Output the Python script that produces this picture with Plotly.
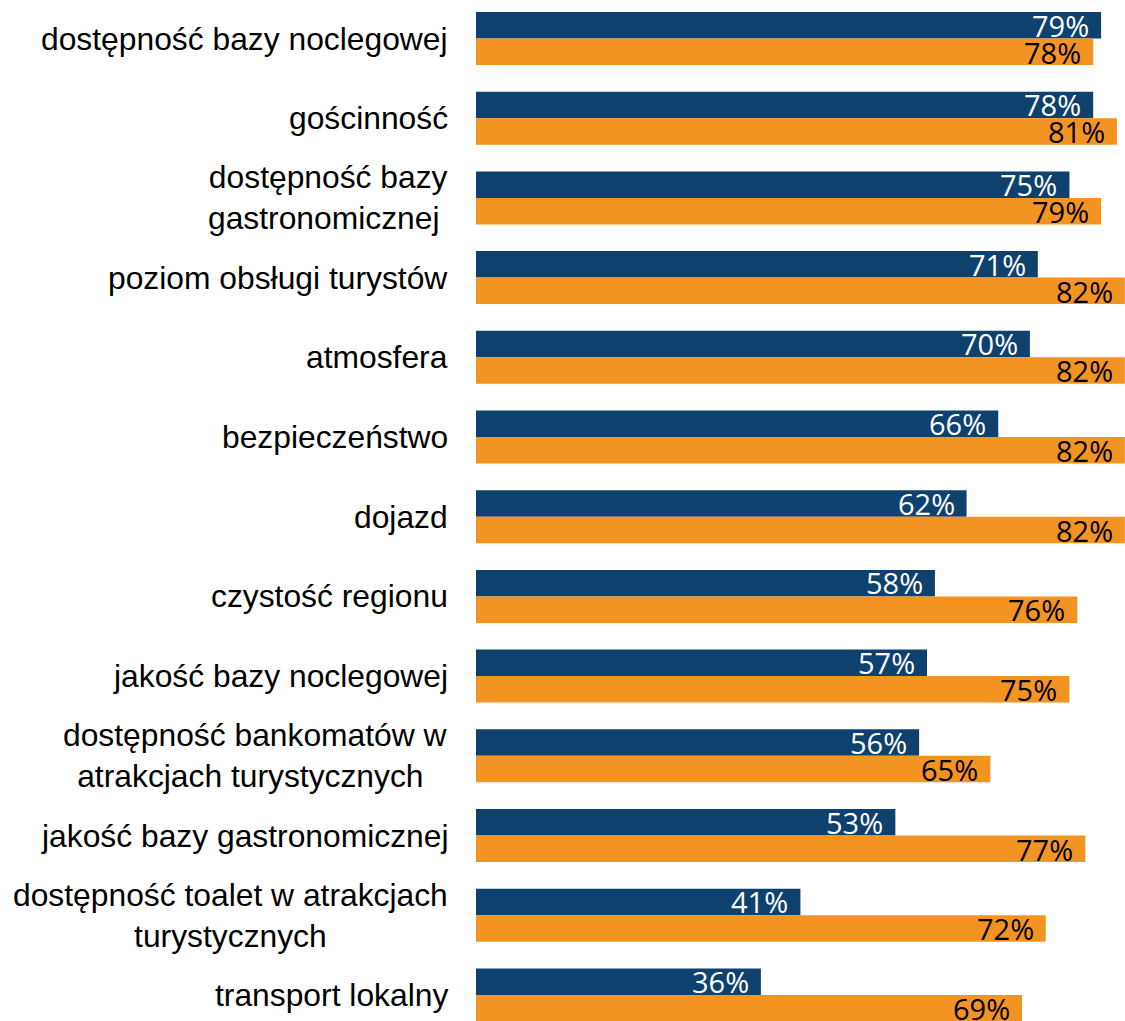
import plotly.graph_objects as go

categories = [
    "dostępność bazy noclegowej",
    "gościnność",
    "dostępność bazy<br>gastronomicznej ",
    "poziom obsługi turystów",
    "atmosfera",
    "bezpieczeństwo",
    "dojazd",
    "czystość regionu",
    "jakość bazy noclegowej",
    "dostępność bankomatów w<br>atrakcjach turystycznych ",
    "jakość bazy gastronomicznej",
    "dostępność toalet w atrakcjach<br>turystycznych",
    "transport lokalny",
]
series_blue = [79, 78, 75, 71, 70, 66, 62, 58, 57, 56, 53, 41, 36]
series_orange = [78, 81, 79, 82, 82, 82, 82, 76, 75, 65, 77, 72, 69]

BLUE = "#0F416F"
ORANGE = "#F39322"

fig = go.Figure()
fig.add_trace(go.Bar(y=categories, x=series_blue, orientation="h",
                     marker=dict(color=BLUE, line=dict(width=0)), name="A"))
fig.add_trace(go.Bar(y=categories, x=series_orange, orientation="h",
                     marker=dict(color=ORANGE, line=dict(width=0)), name="B"))

annotations = []
for cat, vb, vo in zip(categories, series_blue, series_orange):
    annotations.append(dict(x=vb, y=cat, xref="x", yref="y", text=f"{vb}%",
                            xanchor="right", yanchor="middle", xshift=-10, yshift=13.5,
                            showarrow=False,
                            font=dict(family="Open Sans", size=29, color="#FFFFFF")))
    annotations.append(dict(x=vo, y=cat, xref="x", yref="y", text=f"{vo}%",
                            xanchor="right", yanchor="middle", xshift=-10, yshift=-13.5,
                            showarrow=False,
                            font=dict(family="Open Sans", size=29, color="#000000")))
    annotations.append(dict(x=0, y=cat, xref="paper", yref="y", text=cat,
                            xanchor="right", yanchor="middle", xshift=-26, align="center",
                            showarrow=False,
                            font=dict(family="Liberation Sans, Arial", size=31.8, color="#000000")))

fig.update_layout(
    width=1125, height=1021,
    margin=dict(l=476, r=0, t=0, b=0, pad=0),
    paper_bgcolor="white", plot_bgcolor="white",
    barmode="group", bargap=0.335, bargroupgap=0,
    showlegend=False,
    annotations=annotations,
    xaxis=dict(range=[0, 82.02], visible=False, showgrid=False, zeroline=False),
    yaxis=dict(range=[12.327, -0.483], autorange=False, showticklabels=False,
               showgrid=False, zeroline=False, ticks=""),
)

fig.write_html("out.html", config={"displayModeBar": False},
               post_script="document.body.style.margin='0';")
